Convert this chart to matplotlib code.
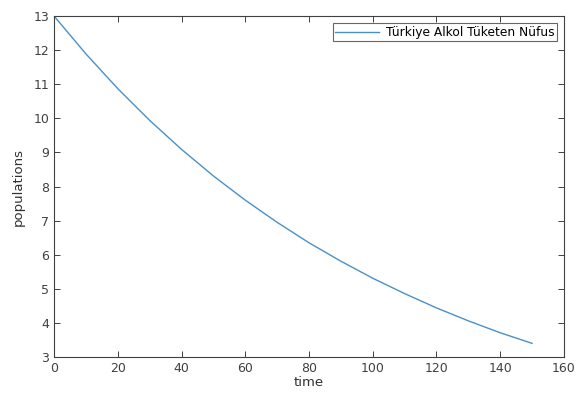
import matplotlib
matplotlib.use("Agg")
import matplotlib.pyplot as plt

time = [0, 10, 20, 30, 40, 50, 60, 70, 80, 90, 100, 110, 120, 130, 140, 150]
population = [13.0, 11.89, 10.87, 9.94, 9.09, 8.31, 7.60, 6.95, 6.35, 5.81,
              5.31, 4.86, 4.44, 4.06, 3.71, 3.40]
series_label = "Türkiye Alkol Tüketen Nüfus"
xticks = [0, 20, 40, 60, 80, 100, 120, 140, 160]
yticks = [3, 4, 5, 6, 7, 8, 9, 10, 11, 12, 13]

fig = plt.figure(figsize=(5.76, 3.94), dpi=100)
ax = fig.add_axes([0.094, 0.094, 0.885, 0.865])
ax.plot(time, population, color="#4a90c8", lw=1.0, label=series_label)
ax.set_xlim(0, 160)
ax.set_ylim(3, 13)
ax.set_xticks(xticks)
ax.set_yticks(yticks)
ax.tick_params(direction="in", top=True, right=True, labelsize=9,
               colors="#404040", length=4, width=0.7)
for s in ax.spines.values():
    s.set_color("#404040")
    s.set_linewidth(0.8)
ax.set_xlabel("time", fontsize=9.5, color="#303030", labelpad=1)
ax.set_ylabel("populations", fontsize=9.5, color="#303030", labelpad=6)
leg = ax.legend(loc="upper right", fontsize=8.8, frameon=True, fancybox=False,
                edgecolor="#404040", handlelength=3.6, handletextpad=0.5,
                borderpad=0.2, borderaxespad=0.6)
leg.get_frame().set_linewidth(0.8)
fig.savefig("out.png", dpi=100)
